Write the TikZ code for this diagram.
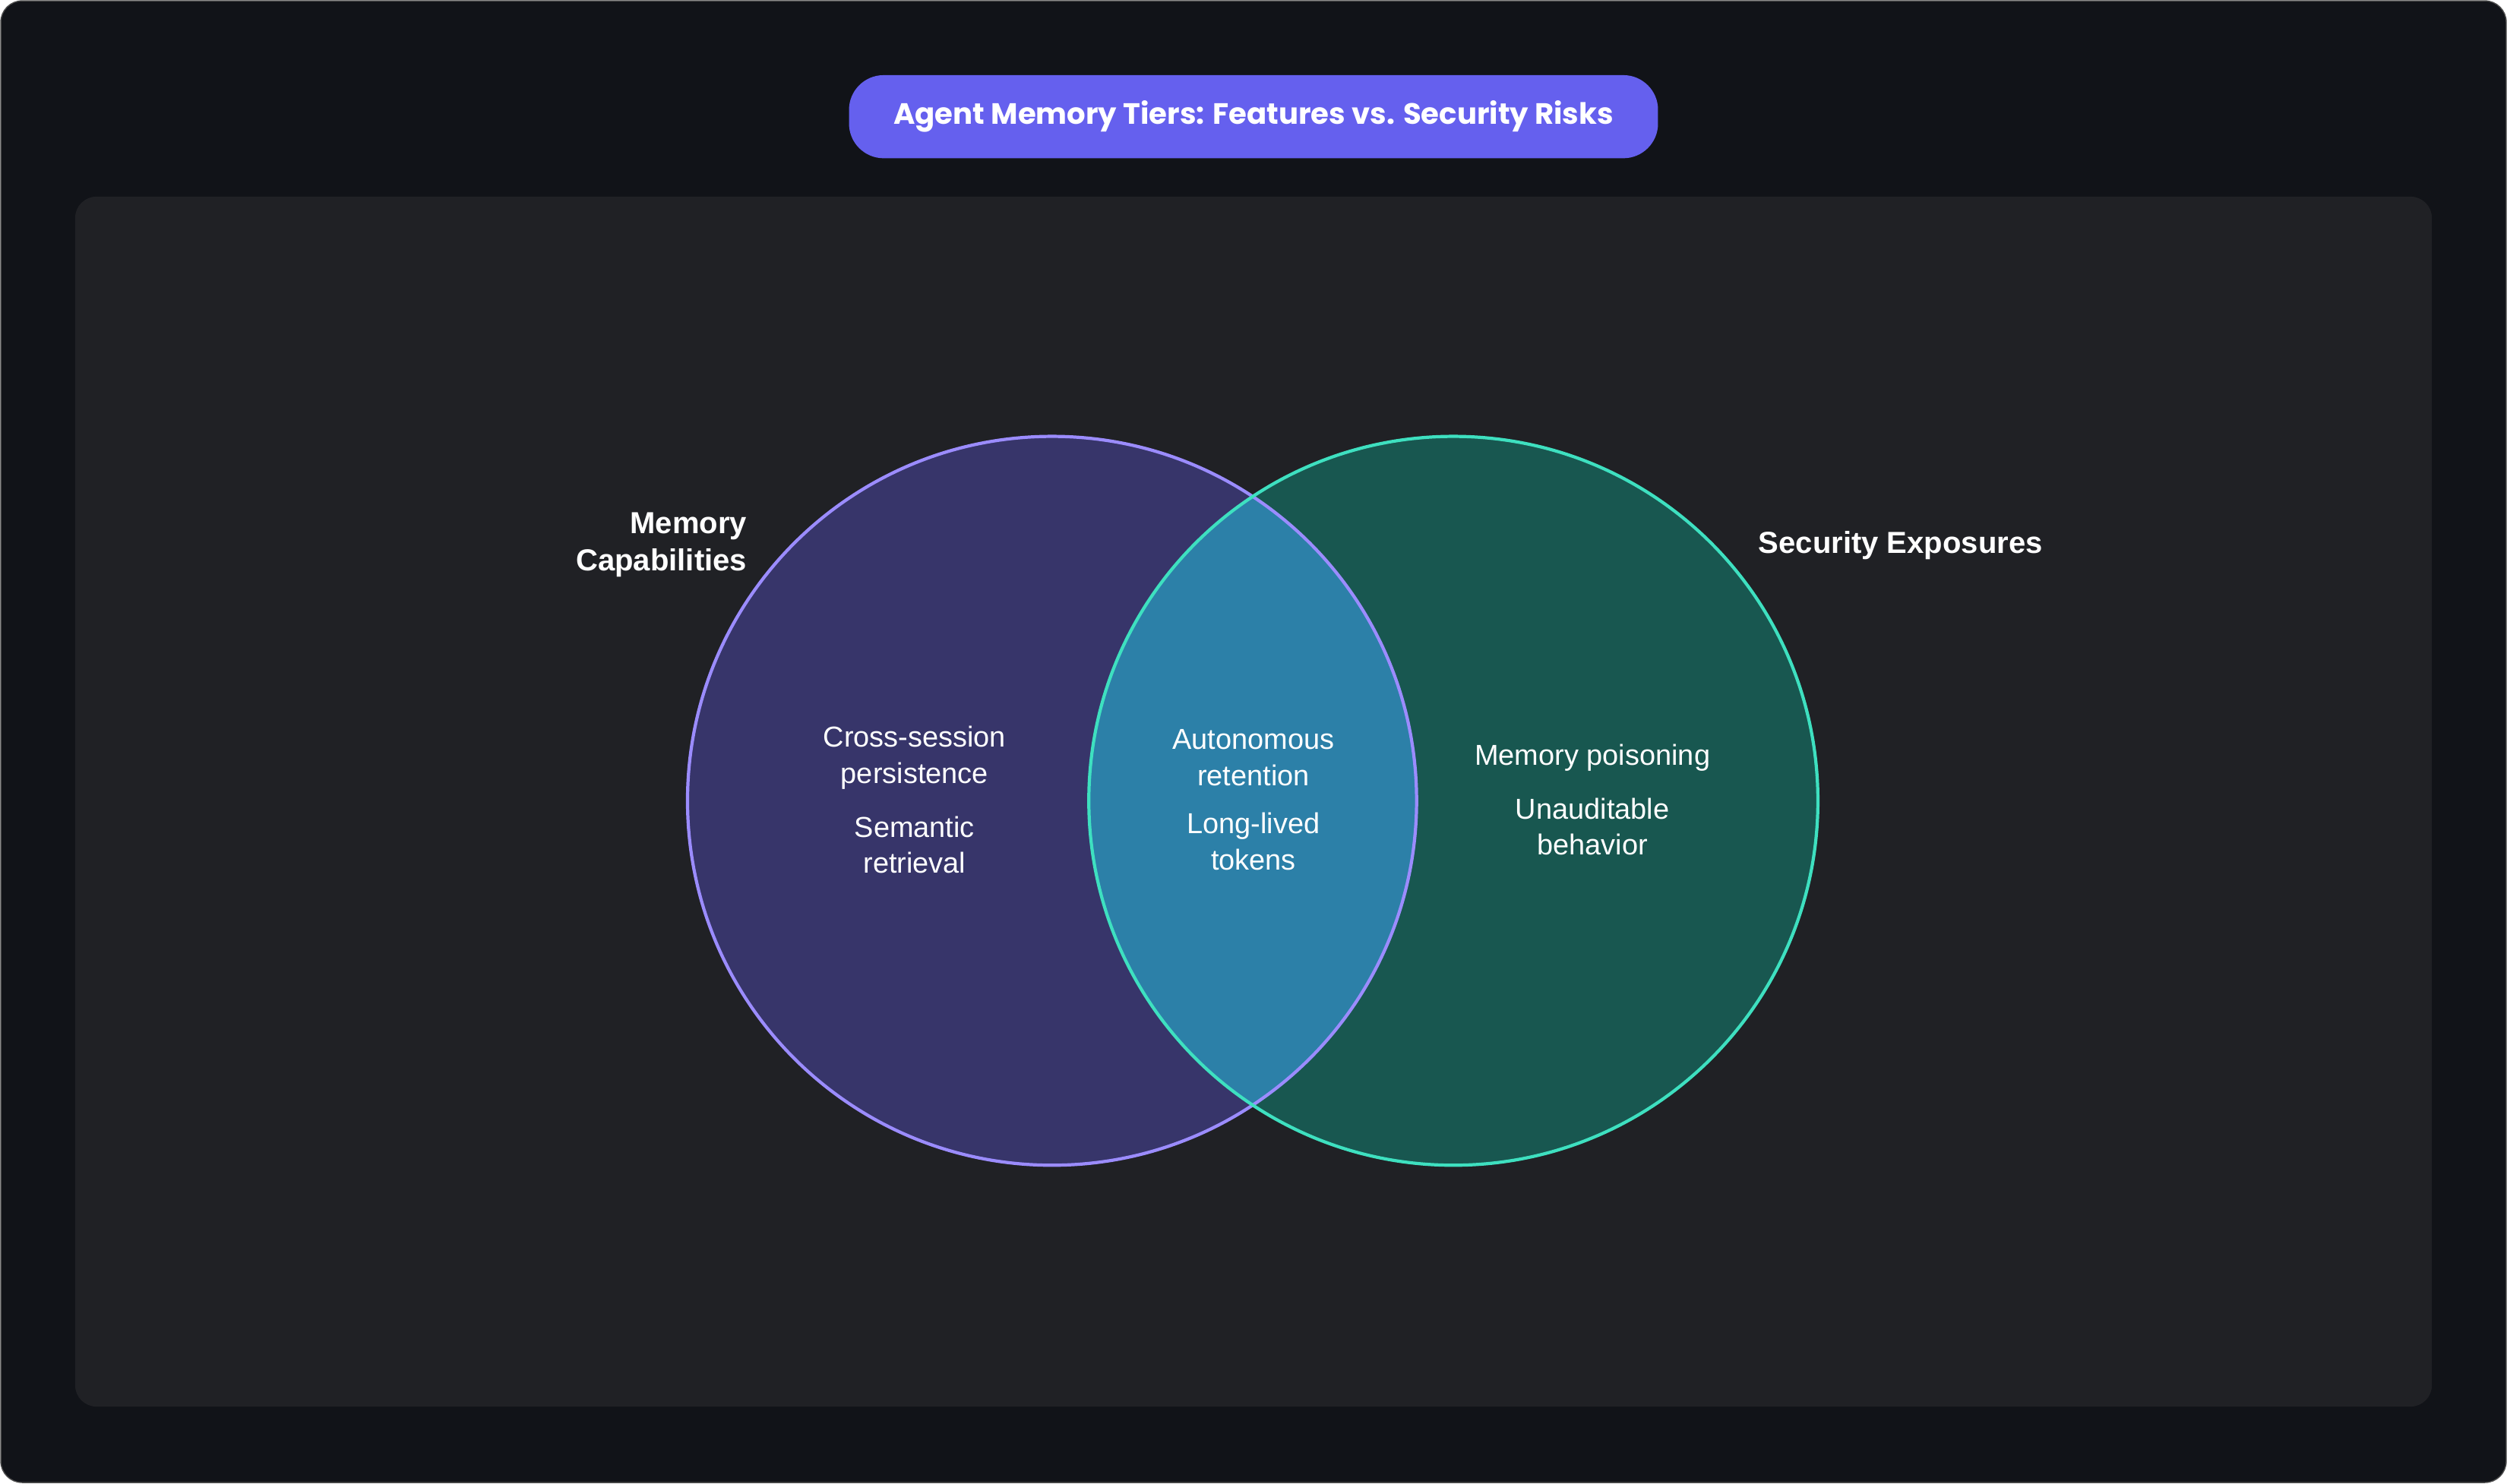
\documentclass[tikz,border=0pt]{standalone}
\usepackage{fontspec}
\setmainfont{Liberation Sans}
\newfontfamily\titlefont{Poppins}
\usetikzlibrary{positioning}
\definecolor{pagebg}{HTML}{111318}
\definecolor{panelbg}{HTML}{202125}
\definecolor{pillbg}{HTML}{6560EE}
\definecolor{capfill}{HTML}{37356A}
\definecolor{capline}{HTML}{9B8CFF}
\definecolor{expfill}{HTML}{185750}
\definecolor{expline}{HTML}{3EE0C0}
\definecolor{bothfill}{HTML}{2C80A8}
\tikzset{
  item/.style={text=white,align=center,font=\fontsize{10.8}{13.6}\selectfont},
  setlabel/.style={text=white,font=\bfseries\fontsize{11.4}{14}\selectfont},
}
\begin{document}
\begin{tikzpicture}[x=0.02105cm,y=-0.02105cm]
    \useasboundingbox (0,0) rectangle (1568,928);
    \fill[pagebg,draw=gray!60!black,rounded corners=8] (0.5,0.5) rectangle (1567.5,927.5);
    \fill[panelbg,rounded corners=8] (47,123) rectangle (1521,880);
    \node(title)[fill=pillbg,rounded corners=13,minimum width=506*0.02105cm,minimum height=52*0.02105cm,text=white,font=\titlefont\bfseries\fontsize{11}{13}\selectfont] at (784,73) {Agent Memory Tiers: Features vs. Security Risks};

    % sets
    \fill[capfill] (658,501) circle (228);
    \fill[expfill] (909,501) circle (228);
    \begin{scope}
        \clip (658,501) circle (228);
        \fill[bothfill] (909,501) circle (228);
    \end{scope}
    \draw[capline,line width=1.2pt] (658,501) circle (228);
    \draw[expline,line width=1.2pt] (909,501) circle (228);

    \node(cap)[setlabel,align=right,anchor=east] at (473,341) {Memory\\Capabilities};
    \node(exp)[setlabel,anchor=west] at (1094,341) {Security Exposures};

    \node(persist)[item] at (572,474) {Cross-session\\persistence};
    \node(retrieve)[item,below=3pt of persist] {Semantic\\retrieval};
    \node(auto)[item] at (784,474) {Autonomous\\retention};
    \node(tokens)[item,below=3pt of auto] {Long-lived\\tokens};
    \node(poison)[item] at (996,474) {Memory poisoning};
    \node(audit)[item,below=3pt of poison] {Unauditable\\behavior};
\end{tikzpicture}
\end{document}
